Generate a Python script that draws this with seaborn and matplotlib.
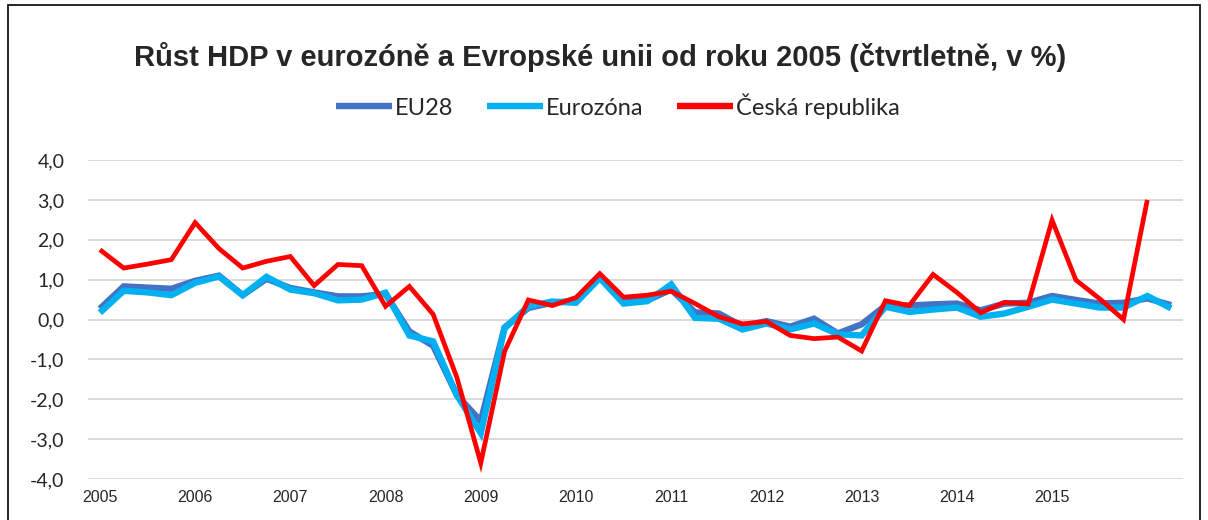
import numpy as np
import pandas as pd
import matplotlib
matplotlib.use("Agg")
import matplotlib.pyplot as plt
import seaborn as sns
from matplotlib.patches import Rectangle

# ---- data ----
quarters = [f"{y}Q{q}" for y in range(2005, 2017) for q in range(1, 5)][:46]
tick_labels = [str(y) for y in range(2005, 2016)]

eu28 = [0.27, 0.83, 0.80, 0.77, 0.97, 1.10, 0.61, 1.02, 0.79, 0.68,
        0.58, 0.58, 0.64, -0.30, -0.66, -1.90, -2.55, -0.20, 0.29, 0.42,
        0.47, 1.08, 0.46, 0.48, 0.75, 0.18, 0.15, -0.17, -0.04, -0.18,
        0.02, -0.35, -0.12, 0.35, 0.35, 0.38, 0.40, 0.23, 0.40, 0.42,
        0.59, 0.49, 0.40, 0.42, 0.53, 0.36]
eurozona = [0.17, 0.72, 0.68, 0.61, 0.92, 1.08, 0.61, 1.07, 0.75, 0.66,
            0.48, 0.50, 0.67, -0.40, -0.55, -1.90, -2.85, -0.22, 0.33, 0.45,
            0.42, 1.04, 0.40, 0.46, 0.88, 0.04, 0.02, -0.25, -0.10, -0.25,
            -0.10, -0.37, -0.40, 0.32, 0.19, 0.25, 0.30, 0.07, 0.15, 0.32,
            0.50, 0.40, 0.30, 0.30, 0.59, 0.28]
cesko = [1.75, 1.29, 1.39, 1.50, 2.43, 1.78, 1.29, 1.46, 1.58, 0.85,
         1.38, 1.35, 0.33, 0.83, 0.13, -1.46, -3.60, -0.80, 0.49, 0.35,
         0.55, 1.15, 0.56, 0.61, 0.71, 0.40, 0.07, -0.11, -0.05, -0.40,
         -0.48, -0.44, -0.79, 0.47, 0.35, 1.13, 0.68, 0.17, 0.43, 0.39,
         2.49, 0.99, 0.52, 0.00, 3.00, np.nan]

series_names = ["EU28", "Eurozóna", "Česká republika"]
colors = ["#4472C4", "#00B0F0", "#FF0000"]
widths = [4.6, 4.6, 3.4]

title = "Růst HDP v eurozóně a Evropské unii od roku 2005 (čtvrtletně, v %)"

# ---- frame ----
idx = np.arange(len(quarters))
df = pd.DataFrame({
    "i": np.concatenate([idx, idx, idx]),
    "value": np.concatenate([eu28, eurozona, cesko]),
    "series": np.repeat(series_names, len(quarters)),
})

sns.set_theme(style="white")
plt.rcParams['font.family'] = ['Lato', 'DejaVu Sans']

fig = plt.figure(figsize=(12.08, 5.2), dpi=100)
ax = fig.add_axes([88/1208, 1 - 479/520, (1183 - 88)/1208, (479 - 160)/520])

for name, c, w in zip(series_names, colors, widths):
    sub = df[df["series"] == name].dropna()
    sns.lineplot(data=sub, x="i", y="value", ax=ax, color=c, linewidth=w,
                 label=name, solid_joinstyle="miter", solid_capstyle="butt",
                 zorder=3)

ax.set_xlim(-0.5, len(quarters) - 0.5)
ax.set_ylim(-4, 4)
ax.set_yticks(np.arange(-4, 4.01, 1))
ax.set_yticklabels([f"{v:.1f}".replace(".", ",") for v in np.arange(-4, 4.01, 1)],
                   fontsize=14, family=['Lato', 'DejaVu Sans'])
ax.set_xticks(np.arange(0, len(tick_labels) * 4, 4))
ax.set_xticklabels(tick_labels, fontsize=11.5, family=['Liberation Sans', 'DejaVu Sans'])
ax.tick_params(axis="y", length=0, pad=17)
ax.tick_params(axis="x", length=0, pad=8)
ax.grid(axis="y", color="#D9D9D9", linewidth=1.4, zorder=0)
ax.grid(axis="x", visible=False)
for s in ax.spines.values():
    s.set_visible(False)
ax.set_xlabel("")
ax.set_ylabel("")

leg = ax.legend(loc="center", bbox_to_anchor=(618/1208, 1 - 106/520),
                bbox_transform=fig.transFigure, ncol=3, frameon=False,
                prop={'family': ['Lato', 'DejaVu Sans'], 'size': 17},
                handlelength=2.35, handletextpad=0.12, columnspacing=1.45)
for h in leg.get_lines():
    h.set_linewidth(4.6)

fig.text(600/1208, 1 - 57/520, title, ha="center", va="center",
         fontsize=21, fontweight="bold", family=['Liberation Sans', 'DejaVu Sans'])

fig.patches.append(Rectangle((8/1208, -0.05), (1200 - 8)/1208, 1.05 - 5/520,
                             transform=fig.transFigure, fill=False,
                             edgecolor="black", linewidth=1.2))

fig.savefig("out.png", dpi=100)
